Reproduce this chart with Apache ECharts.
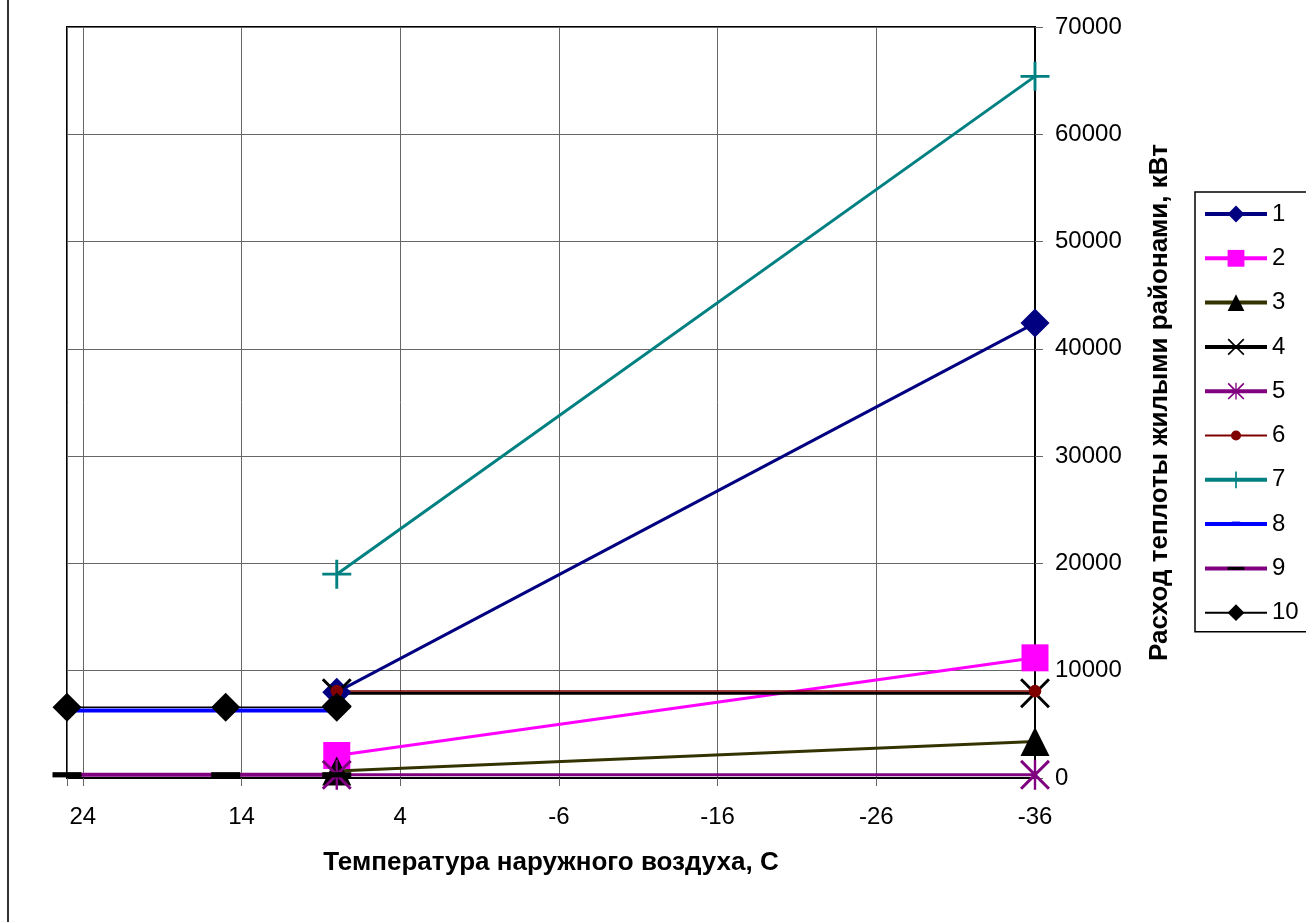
<!DOCTYPE html>
<html>
<head>
<meta charset="utf-8">
<script src="https://cdn.jsdelivr.net/npm/echarts@6/dist/echarts.min.js"></script>
<style>
html,body{margin:0;padding:0;background:#fff;}
#chart{width:1306px;height:922px;}
</style>
</head>
<body>
<div id="chart"></div>
<script>
// ---- data ----
const xWinter = [8, -36];
const xSummer = [25, 15, 8];
const s1 = [8000, 42400];
const s2 = [2100, 11200];
const s3 = [650, 3400];
const s4 = [7900, 7900];
const s5 = [300, 300];
const s6 = [8100, 8100];
const s7 = [19000, 65400];
const s8 = [6300, 6300, 6300];
const s9 = [300, 300, 300];
const s10 = [6600, 6600, 6600];
const seriesNames = ['1','2','3','4','5','6','7','8','9','10'];
const xAxisTitle = 'Температура наружного воздуха, C';
const yAxisTitle = 'Расход теплоты жилыми районами, кВт';

function pts(xs, ys){ return xs.map((x,i)=>[x, ys[i]]); }

const FONT = '"Liberation Sans", Arial, sans-serif';
const X_PATH = 'path://M0,0.7 L0.7,0 L5,4.3 L9.3,0 L10,0.7 L5.7,5 L10,9.3 L9.3,10 L5,5.7 L0.7,10 L0,9.3 L4.3,5 Z';
const AST_PATH = 'path://M0,0.7 L0.7,0 L5,4.3 L9.3,0 L10,0.7 L5.7,5 L10,9.3 L9.3,10 L5,5.7 L0.7,10 L0,9.3 L4.3,5 Z M4.6,0 L5.4,0 L5.4,10 L4.6,10 Z';
const PLUS_PATH = 'path://M4.5,0 L5.5,0 L5.5,4.5 L10,4.5 L10,5.5 L5.5,5.5 L5.5,10 L4.5,10 L4.5,5.5 L0,5.5 L0,4.5 L4.5,4.5 Z';
const DASH_PATH = 'path://M0,0 M10,10 M0,4.1 L10,4.1 L10,5.9 L0,5.9 Z';
const SMALLDASH_PATH = 'path://M0,0 M10,10 M2.5,3.5 L7.5,3.5 L7.5,5.3 L2.5,5.3 Z';
const DOT_PATH = 'path://M0,0 M10,10 M5,2 A3,3 0 1,1 5,8 A3,3 0 1,1 5,2 Z';

function mk(name, data, color, width, symbol, size, markerColor){
  return {
    name: name, type: 'line', data: data,
    symbol: symbol, symbolSize: size, showSymbol: true,
    lineStyle: {color: color, width: width},
    itemStyle: {color: markerColor || color, borderWidth: 0},
    emphasis: {disabled: true},
    animation: false
  };
}

const series = [
  mk(seriesNames[0], pts(xWinter, s1), '#000080', 3, 'diamond', 29),
  mk(seriesNames[1], pts(xWinter, s2), '#FF00FF', 3, 'rect', 27),
  mk(seriesNames[2], pts(xWinter, s3), '#333300', 3, 'triangle', 29, '#000000'),
  mk(seriesNames[3], pts(xWinter, s4), '#000000', 3, X_PATH, 30),
  mk(seriesNames[4], pts(xWinter, s5), '#800080', 3, AST_PATH, 30),
  mk(seriesNames[5], pts(xWinter, s6), '#800000', 1.5, DOT_PATH, 21),
  mk(seriesNames[6], pts(xWinter, s7), '#008080', 3, PLUS_PATH, 29),
  mk(seriesNames[7], pts(xSummer, s8), '#0000FF', 4, SMALLDASH_PATH, 20),
  mk(seriesNames[8], pts(xSummer, s9), '#800080', 4, DASH_PATH, 29, '#000000'),
  mk(seriesNames[9], pts(xSummer, s10), '#000000', 1.5, 'diamond', 29)
];

const legendWidths = [4, 4, 4, 4, 4, 2, 4, 4, 4, 2];
const legendData = seriesNames.map((n, i) => ({name: n, lineStyle: {width: legendWidths[i]}}));

const chart = echarts.init(document.getElementById('chart'), null, {renderer: 'canvas'});
chart.setOption({
  animation: false,
  backgroundColor: '#ffffff',
  textStyle: {fontFamily: FONT},
  grid: {left: 67, right: 271, top: 27, bottom: 144, show: true, borderColor: '#000', borderWidth: 2, backgroundColor: 'transparent'},
  xAxis: {
    type: 'value', inverse: true, min: -36, max: 25, interval: 10,
    name: xAxisTitle, nameLocation: 'middle', nameGap: 72,
    nameTextStyle: {fontSize: 26, fontWeight: 'bold', color: '#000', fontFamily: FONT},
    axisLine: {show: true, onZero: false, lineStyle: {color: '#000', width: 2}},
    axisTick: {show: true, length: 8, lineStyle: {color: '#666', width: 1}},
    axisLabel: {fontSize: 24, color: '#000', margin: 27, fontFamily: FONT,
      formatter: v => (v === 25 ? '' : String(v))},
    splitLine: {show: true, lineStyle: {color: '#666', width: 1}}
  },
  yAxis: {
    type: 'value', position: 'right', min: 0, max: 70000, interval: 10000,
    name: yAxisTitle, nameLocation: 'middle', nameGap: 112, nameRotate: 90,
    nameTextStyle: {fontSize: 26, fontWeight: 'bold', color: '#000', fontFamily: FONT},
    axisLine: {show: true, onZero: false, lineStyle: {color: '#000', width: 2}},
    axisTick: {show: true, inside: false, length: 8, lineStyle: {color: '#666', width: 1}},
    axisLabel: {fontSize: 24, color: '#000', margin: 20, fontFamily: FONT,
      formatter: v => String(v)},
    splitLine: {show: true, lineStyle: {color: '#666', width: 1}}
  },
  legend: {
    orient: 'vertical', left: 1195, top: 192,
    data: legendData,
    itemWidth: 62, itemHeight: 21, itemGap: 20.3,
    padding: [10, 80, 7, 8],
    borderColor: '#000', borderWidth: 1.5,
    textStyle: {fontSize: 24, lineHeight: 21, color: '#000', fontFamily: FONT},
    selectedMode: false
  },
  graphic: [
    {type: 'line', shape: {x1: 8, y1: 0, x2: 8, y2: 922}, style: {stroke: '#333', lineWidth: 2}}
  ],
  series: series
});
</script>
</body>
</html>
